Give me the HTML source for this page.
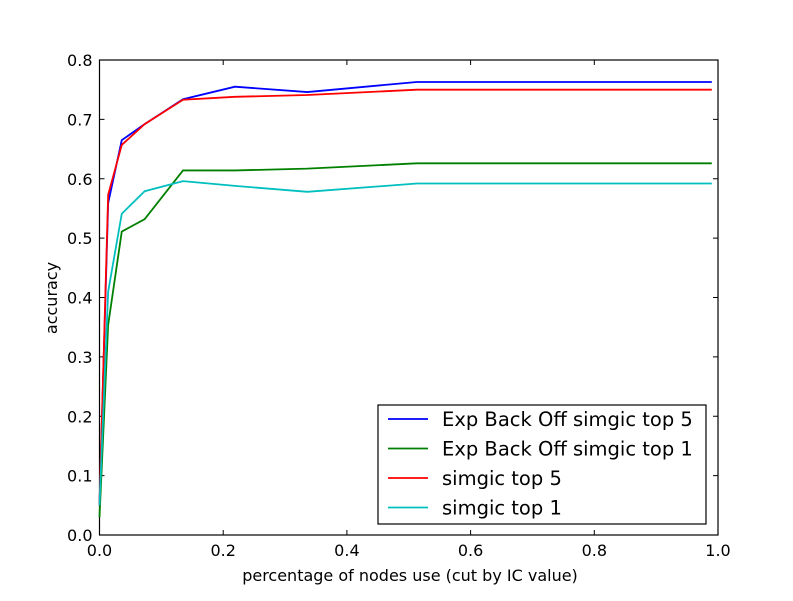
<!DOCTYPE html>
<html><head><meta charset="utf-8"><style>
body{margin:0;background:#fff}
svg text{font-family:"DejaVu Sans","Liberation Sans",sans-serif;fill:#000}
</style></head><body>
<svg id="chart" width="793" height="596" xmlns="http://www.w3.org/2000/svg">
<g id="plot"></g>
</svg>
<script>
const xs = [0, 0.014, 0.036, 0.073, 0.135, 0.219, 0.336, 0.513, 0.99];
const seriesNames = ["Exp Back Off simgic top 5","Exp Back Off simgic top 1","simgic top 5","simgic top 1"];
const blueVals = [0.05, 0.559, 0.665, 0.692, 0.734, 0.755, 0.746, 0.763, 0.763];
const greenVals = [0.03, 0.354, 0.511, 0.532, 0.614, 0.614, 0.617, 0.626, 0.626];
const redVals = [0.05, 0.573, 0.657, 0.692, 0.733, 0.738, 0.741, 0.750, 0.750];
const cyanVals = [0.05, 0.41, 0.541, 0.579, 0.596, 0.588, 0.578, 0.592, 0.592];
const xTicks = [0, 0.2, 0.4, 0.6, 0.8, 1.0];
const yTicks = [0, 0.1, 0.2, 0.3, 0.4, 0.5, 0.6, 0.7, 0.8];
const X0=99.5, X1=718, Y0=535, Y1=60;
const xs_ = v => X0 + v*(X1-X0);
const ys_ = v => Y0 - v/0.8*(Y0-Y1);
const NS="http://www.w3.org/2000/svg";
const g=document.getElementById('plot');
function mk(t,a){const e=document.createElementNS(NS,t);for(const k in a)e.setAttribute(k,a[k]);g.appendChild(e);return e;}
const frame=mk('rect',{x:X0,y:Y1,width:X1-X0,height:Y0-Y1,fill:'none',stroke:'#000','stroke-width':1.2});


xTicks.forEach(t=>{const x=xs_(t);
 mk('line',{x1:x,x2:x,y1:Y0,y2:Y0-5,stroke:'#000'});mk('line',{x1:x,x2:x,y1:Y1,y2:Y1+5,stroke:'#000'});
 const tx=mk('text',{x:x,y:Y0+21,'font-size':16,'text-anchor':'middle'});tx.textContent=t.toFixed(1);
 
 });
yTicks.forEach(t=>{const y=ys_(t);
 mk('line',{x1:X0,x2:X0+5,y1:y,y2:y,stroke:'#000'});mk('line',{x1:X1,x2:X1-5,y1:y,y2:y,stroke:'#000'});
 const tx=mk('text',{x:X0-7,y:y+6,'font-size':16,'text-anchor':'end'});tx.textContent=t.toFixed(1);
 
 });
const xl=mk('text',{x:410,y:581,'font-size':16,'text-anchor':'middle'});xl.textContent='percentage of nodes use (cut by IC value)';


const yl=mk('text',{x:0,y:0,'font-size':16,'text-anchor':'middle',transform:'translate(57,298) rotate(-90)'});yl.textContent='accuracy';


const all=[[blueVals,'#0000ff'],[greenVals,'#008000'],[redVals,'#ff0000'],[cyanVals,'#00bfbf']];
all.forEach(([vals,c],i)=>{
 const p=mk('polyline',{points:vals.map((v,j)=>xs_(xs[j])+','+ys_(v)).join(' '),fill:'none',stroke:c,'stroke-width':1.8});
 
 
});
const lg=mk('rect',{x:378,y:405,width:328,height:119,fill:'#fff',stroke:'#000','stroke-width':1.2});


all.forEach(([v,c],i)=>{const y=419+i*29.5;
 mk('line',{x1:388,x2:428,y1:y,y2:y,stroke:c,'stroke-width':1.8});
 const t=mk('text',{x:442,y:y+7,'font-size':19.5});t.textContent=seriesNames[i];
 
 });
</script>
</body></html>
